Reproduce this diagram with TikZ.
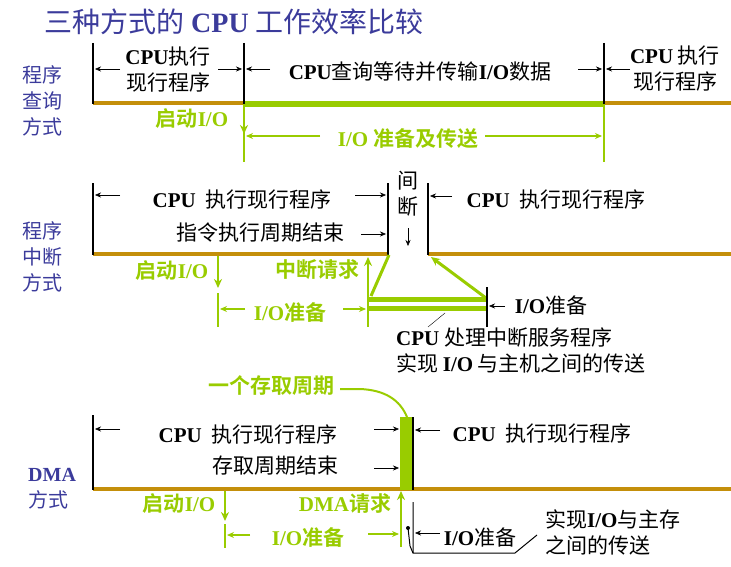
\documentclass[tikz,border=0pt]{standalone}
\usepackage{fontspec}
\setmainfont{Noto Sans CJK SC}[BoldFont={Noto Sans CJK SC Bold}]
\newfontfamily\tnr{Liberation Serif}
\newcommand{\lat}[1]{{\tnr\bfseries #1}}
\usetikzlibrary{arrows.meta}
\definecolor{titleblue}{HTML}{3B3B9B}
\definecolor{iogreen}{HTML}{99CC00}
\definecolor{busbrown}{HTML}{C48F0A}
\tikzset{
  side/.style={text=titleblue, font=\fontsize{20}{26}\selectfont, align=left, inner sep=0pt},
  txt/.style={font=\fontsize{21}{26}\selectfont, align=center, inner sep=0pt},
  gtxt/.style={text=iogreen, font=\fontsize{21}{24}\selectfont\bfseries, inner sep=0pt},
  arr/.style={-{Stealth[length=6pt,width=5pt]}, thin},
  garr/.style={-{Stealth[length=7pt,width=6pt]}, iogreen, line width=1.4pt},
  greq/.style={-{Stealth[length=9pt,width=8pt]}, iogreen, line width=2.5pt},
  bus/.style={busbrown, line width=3.5pt},
  io/.style={iogreen, line width=2.5pt},
  iobar/.style={iogreen, line width=6pt},
  tick/.style={line width=1.8pt},
}

\begin{document}
\begin{tikzpicture}[x=1pt, y=-1pt]
  \useasboundingbox (0,0) rectangle (731,567);

  \node[text=titleblue, font=\fontsize{28}{30}\selectfont, inner sep=0pt] (title) at (234,22)
    {三种方式的 \lat{CPU} 工作效率比较};

  % Polling
  \node[side] (poll) at (43,101) {程序\\查询\\方式};
  \draw[bus] (93,103) -- (244,103);
  \draw[iobar] (244,104) -- (604,104);
  \draw[bus] (604,103) -- (731,103);
  \draw[tick] (93,43) -- (93,104);
  \draw[tick] (244,43) -- (244,104);
  \draw[tick] (604,43) -- (604,104);
  \node[txt] (p1) at (168,70) {\lat{CPU}执行\\现行程序};
  \node[txt] (p2) at (420,72) {\lat{CPU}查询等待并传输\lat{I/O}数据};
  \node[txt] (p3) at (675,69) {\lat{CPU} 执行\\现行程序};
  \draw[arr] (120,69) -- (95,69);
  \draw[arr] (218,69) -- (242,69);
  \draw[arr] (270,69) -- (246,69);
  \draw[arr] (578,69) -- (602,69);
  \draw[arr] (630,69) -- (606,69);
  \draw[io] (244,104) -- (244,162);
  \draw[io] (604,104) -- (604,162);
  \draw[greq] (244,108) -- (244,134);
  \node[gtxt] (p4) at (192,119) {启动\lat{I/O}};
  \node[gtxt] (p5) at (408,139) {\lat{I/O} 准备及传送};
  \draw[garr] (320,136) -- (246,136);
  \draw[garr] (485,136) -- (602,136);

  % Interrupt
  \node[side] (intr) at (43,257) {程序\\中断\\方式};
  \draw[bus] (93,254) -- (388,254);
  \draw[bus] (428,254) -- (731,254);
  \draw[tick] (93,183) -- (93,255);
  \draw[tick] (388,183) -- (388,255);
  \draw[tick] (428,183) -- (428,255);
  \node[txt] (gap) at (408,194) {间\\断};
  \draw[arr] (408,228) -- (408,246);
  \node[txt] (i1) at (242,199) {\lat{CPU}\ \ 执行现行程序};
  \node[txt] (i2) at (556,199) {\lat{CPU}\ \ 执行现行程序};
  \node[txt] (i3) at (260,233) {指令执行周期结束};
  \draw[arr] (120,195) -- (95,195);
  \draw[arr] (355,195) -- (386,195);
  \draw[arr] (452,196) -- (430,196);
  \draw[arr] (361,234) -- (386,234);
  \draw[greq] (218,256) -- (218,288);
  \node[gtxt] (i4) at (172,271) {启动\lat{I/O}};
  \draw[io] (218,293) -- (218,327);
  \draw[garr] (245,309) -- (220,309);
  \node[gtxt] (i5) at (290,312) {\lat{I/O}准备};
  \draw[garr] (343,309) -- (366,309);
  \draw[io] (368,297) -- (368,327);
  \draw[greq] (368,298) -- (368,257);
  \node[gtxt] (i6) at (317,270) {中断请求};
  \draw[io, line width=3pt] (389,255) -- (371,296);
  \draw[iobar, line width=5pt] (368,299) -- (487,299);
  \draw[iobar, line width=5pt] (368,308) -- (487,308);
  \draw[greq, line width=3pt] (486,298) -- (431,257);
  \draw[tick] (487,287) -- (487,327);
  \draw[arr] (505,306) -- (489,306);
  \node[txt] (i7) at (551,305) {\lat{I/O}准备};
  \draw[thin] (428,327) -- (445,313);
  \node[txt, align=left, anchor=west] (i8) at (396,350)
    {\lat{CPU} 处理中断服务程序\\实现 \lat{I/O} 与主机之间的传送};

  % DMA
  \node[side, anchor=west] (dma) at (28,489) {\lat{DMA}\\方式};
  \node[gtxt] (d0) at (271,386) {一个存取周期};
  \draw[iogreen, line width=2pt] (340,389) -- (360,389)
    .. controls (385,390) and (400,400) .. (407,417);
  \draw[bus] (93,489) -- (731,489);
  \draw[tick] (93,415) -- (93,490);
  \fill[iogreen] (400,417) rectangle (412,490);
  \draw[tick] (413,417) -- (413,490);
  \node[txt] (d1) at (248,434) {\lat{CPU}\ \ 执行现行程序};
  \node[txt] (d2) at (542,433) {\lat{CPU}\ \ 执行现行程序};
  \node[txt] (d3) at (275,466) {存取周期结束};
  \draw[arr] (120,429) -- (95,429);
  \draw[arr] (374,429) -- (399,429);
  \draw[arr] (440,430) -- (415,430);
  \draw[arr] (374,468) -- (399,468);
  \draw[greq] (225,491) -- (225,521);
  \node[gtxt] (d4) at (179,504) {启动\lat{I/O}};
  \draw[io] (225,524) -- (225,548);
  \draw[garr] (250,535) -- (227,535);
  \node[gtxt] (d5) at (308,537) {\lat{I/O}准备};
  \draw[garr] (368,534) -- (399,534);
  \draw[io] (401,547) -- (401,505);
  \draw[greq] (401,512) -- (401,491);
  \node[gtxt] (d6) at (345,504) {\lat{DMA}请求};
  \draw[line width=1pt] (413,502) -- (413,553) -- (515,553) -- (537,535);
  \fill (408,528) circle (2);
  \draw[line width=1pt] (408,528) -- (410,546) -- (413,553);
  \draw[arr] (440,533) -- (415,533);
  \node[txt] (d7) at (480,537) {\lat{I/O}准备};
  \node[txt, align=left, anchor=west] (d8) at (545,532) {实现\lat{I/O}与主存\\之间的传送};
\end{tikzpicture}
\end{document}
